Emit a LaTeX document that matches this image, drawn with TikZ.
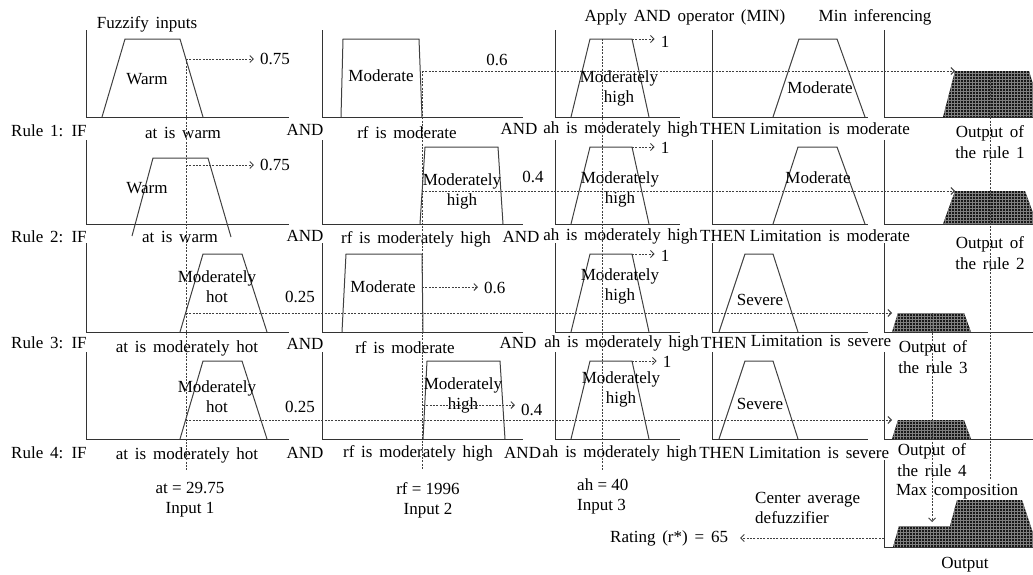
\documentclass[tikz,border=0pt]{standalone}
\usepackage{fontspec}
\setmainfont{Liberation Serif}
\usetikzlibrary{positioning, arrows.meta, patterns}

\tikzset{
  axisline/.style={line width=1pt, black!80},
  mfline/.style={line width=1pt, black!75},
  guide/.style={line width=0.9pt, black!75, dash pattern=on 2pt off 1.3pt},
  guidearrow/.style={guide, -{Straight Barb[length=3.5pt, width=7pt]}},
  outshape/.style={fill=black!90, postaction={pattern=grid, pattern color=black!50}},
  txt/.style={inner sep=0pt, font={\fontsize{17}{19}\selectfont\spaceskip=0.4em\relax}},
  tight/.style={inner sep=0pt, font={\fontsize{17}{19}\selectfont}},
  val/.style={txt, inner xsep=6pt},
}

\begin{document}
\begin{tikzpicture}[x=1pt, y=-1pt]
  \useasboundingbox (0,0) rectangle (1033,574);

  % panels of the four rules
  \foreach \top/\base in {30/117, 140/224, 243/332, 352/439}
    \foreach \xl/\xr in {86/289, 322/523, 555/680, 712/868, 884/1033}
      \draw[axisline] (\xl,\top) -- (\xl,\base) -- (\xr,\base);
  \draw[axisline] (884,460) -- (884,547) -- (1033,547);

  % membership functions, rule 1
  \draw[mfline] (102,117) -- (125,39) -- (180,39) -- (203,117);
  \draw[mfline] (341,117) -- (343,39) -- (419,39) -- (422,117);
  \draw[mfline] (571,117) -- (590,39) -- (632,39) -- (649,117);
  \draw[mfline] (773,117) -- (799,39) -- (837,39) -- (865,117);
  \fill[outshape] (943,117) -- (955,71) -- (1029,71) -- (1033,84) -- (1033,117) -- cycle;
  % rule 2
  \draw[mfline] (132,236) -- (153,158) -- (208,158) -- (231,237);
  \draw[mfline] (420,224) -- (425,147) -- (498,147) -- (503,224);
  \draw[mfline] (571,224) -- (590,147) -- (632,147) -- (649,224);
  \draw[mfline] (773,224) -- (798,147) -- (837,147) -- (865,224);
  \fill[outshape] (943,224) -- (955,191) -- (1025,191) -- (1033,213) -- (1033,224) -- cycle;
  % rule 3
  \draw[mfline] (180,332) -- (203,254) -- (242,254) -- (267,332);
  \draw[mfline] (342,332) -- (346,254) -- (422,254) -- (423,332);
  \draw[mfline] (571,332) -- (590,254) -- (632,254) -- (649,332);
  \draw[mfline] (719,332) -- (745,254) -- (773,254) -- (798,332);
  \fill[outshape] (892,332) -- (898,313) -- (964,313) -- (971,332) -- cycle;
  % rule 4
  \draw[mfline] (180,439) -- (203,361) -- (242,361) -- (267,439);
  \draw[mfline] (423,439) -- (427,361) -- (500,361) -- (505,439);
  \draw[mfline] (571,439) -- (590,361) -- (632,361) -- (649,439);
  \draw[mfline] (719,439) -- (745,361) -- (773,361) -- (798,439);
  \fill[outshape] (892,439) -- (898,420) -- (964,420) -- (971,439) -- cycle;
  % max composition
  \fill[outshape] (893,547) -- (899,526) -- (950,526) -- (957,500) -- (1022,500)
    -- (1033,533) -- (1033,547) -- cycle;

  % headings
  \node[txt] (fuzzify) at (147,24) {Fuzzify inputs};
  \node[txt] (applyand) at (685,17) {Apply AND operator (MIN)};
  \node[txt] (mininf) at (875,17) {Min inferencing};

  % term labels
  \node[txt] (warm1) at (147,79) {Warm};
  \node[txt] (mod1) at (381,76) {Moderate};
  \node[txt, align=center] (mh1) at (619,88) {Moderately\\[1pt]high};
  \node[txt] (lim1) at (820,88) {Moderate};
  \node[txt] (warm2) at (147,188) {Warm};
  \node[txt, align=center] (mh2) at (462,191) {Moderately\\[1pt]high};
  \node[txt, align=center] (ah2) at (620,189) {Moderately\\[1pt]high};
  \node[txt] (lim2) at (818,178) {Moderate};
  \node[txt, align=center] (mhot3) at (217,287) {Moderately\\[1pt]hot};
  \node[txt] (mod3) at (383,287) {Moderate};
  \node[txt, align=center] (ah3) at (620,286) {Moderately\\[1pt]high};
  \node[txt] (lim3) at (760,300) {Severe};
  \node[txt, align=center] (mhot4) at (217,397) {Moderately\\[1pt]hot};
  \node[txt, align=center] (mh4) at (463,395) {Moderately\\[1pt]high};
  \node[txt, align=center] (ah4) at (621,389) {Moderately\\[1pt]high};
  \node[txt] (lim4) at (760,404) {Severe};

  % rule text
  \node[txt, anchor=west] (r1) at (11,131) {Rule 1: IF};
  \node[txt] (r1a) at (183,133) {at is warm};
  \node[txt] (r1b) at (305,130) {AND};
  \node[txt] (r1c) at (407,133) {rf is moderate};
  \node[txt] (r1d) at (519,129) {AND};
  \node[txt, anchor=east] (r1e) at (698,129) {ah is moderately high};
  \node[txt, right=2pt of r1e] (r1f) {THEN};
  \node[txt, right=4pt of r1f] (r1g) {Limitation is moderate};

  \node[txt, anchor=west] (r2) at (11,237) {Rule 2: IF};
  \node[txt] (r2a) at (180,237) {at is warm};
  \node[txt] (r2b) at (305,236) {AND};
  \node[txt] (r2c) at (416,239) {rf is moderately high};
  \node[txt] (r2d) at (521,237) {AND};
  \node[txt, anchor=east] (r2e) at (698,236) {ah is moderately high};
  \node[txt, right=2pt of r2e] (r2f) {THEN};
  \node[txt, right=4pt of r2f] (r2g) {Limitation is moderate};

  \node[txt, anchor=west] (r3) at (11,343) {Rule 3: IF};
  \node[txt] (r3a) at (187,348) {at is moderately hot};
  \node[txt] (r3b) at (305,344) {AND};
  \node[txt] (r3c) at (405,348) {rf is moderate};
  \node[txt] (r3d) at (518,343) {AND};
  \node[txt, anchor=east] (r3e) at (699,343) {ah is moderately high};
  \node[txt, right=2pt of r3e] (r3f) {THEN};
  \node[txt, right=4pt of r3f, yshift=2pt] (r3g) {Limitation is severe};

  \node[txt, anchor=west] (r4) at (11,453) {Rule 4: IF};
  \node[txt] (r4a) at (187,455) {at is moderately hot};
  \node[txt] (r4b) at (305,453) {AND};
  \node[txt] (r4c) at (418,453) {rf is moderately high};
  \node[txt, anchor=west] (r4d) at (504,453) {AND};
  \node[txt, right=1pt of r4d] (r4e) {ah is moderately high};
  \node[txt, right=2pt of r4e] (r4f) {THEN};
  \node[txt, right=4pt of r4f] (r4g) {Limitation is severe};

  % rule outputs
  \node[txt, align=center] (out1) at (990,142) {Output of\\[2pt]the rule 1};
  \node[txt, align=center] (out2) at (990,253) {Output of\\[2pt]the rule 2};
  \node[txt, align=center] (out3) at (933,357) {Output of\\[2pt]the rule 3};
  \node[txt, align=center] (out4) at (932,460) {Output of\\[2pt]the rule 4};

  % inputs and result
  \node[tight, align=center] (in1) at (190,500) {at = 29.75\\[1pt]Input 1};
  \node[tight, align=center] (in2) at (428,500) {rf = 1996\\[1pt]Input 2};
  \node[tight, align=left, anchor=west] (in3) at (577,496) {ah = 40\\[1pt]Input 3};
  \node[txt, align=left, anchor=west] (defuzz) at (755,508) {Center average\\[1pt]defuzzifier};
  \node[txt, anchor=west] (rating) at (610,538) {Rating (r*) = 65};
  \node[txt] (maxcomp) at (957,492) {Max composition};
  \node[txt] (output) at (965,565) {Output};

  % membership values
  \node[val] (v1) at (275,59) {0.75};
  \node[val] (v2) at (275,165) {0.75};
  \node[txt] (v3) at (497,60) {0.6};
  \node[txt] (v4) at (533,177) {0.4};
  \node[txt] (v5) at (300,297) {0.25};
  \node[txt] (v6) at (300,407) {0.25};
  \node[val, anchor=west] (v7) at (478,288) {0.6};
  \node[val, anchor=west] (v8) at (515,410) {0.4};
  \node[val] (one1) at (665,42) {1};
  \node[val] (one2) at (665,148) {1};
  \node[val] (one3) at (665,256) {1};
  \node[val] (one4) at (667,362) {1};

  % cut points
  \coordinate (c1) at (186,59);
  \coordinate (c2) at (422,71);
  \coordinate (c3) at (602,39);
  \coordinate (c4) at (186,165);
  \coordinate (c5) at (422,191);
  \coordinate (c6) at (186,313);
  \coordinate (c7) at (422,287);
  \coordinate (c8) at (186,420);
  \coordinate (c9) at (423,405);
  \coordinate (t1) at (632,39);
  \coordinate (t2) at (632,147);
  \coordinate (t3) at (632,254);
  \coordinate (t4) at (632,361);
  \coordinate (o1) at (955,71);
  \coordinate (o2) at (955,191);
  \coordinate (o3) at (892,313);
  \coordinate (o4) at (892,420);
  \coordinate (o5) at (990,71);
  \coordinate (o6) at (932,313);
  \coordinate (o7) at (884,538);

  % guides
  \draw[guide] (c1) -- (186,470);
  \draw[guide] (c2) -- (422,470);
  \draw[guide] (c3) -- (602,470);
  \draw[guide] (o5) -- (990,480);
  \draw[guidearrow] (o6) -- (932,522);
  \draw[guidearrow] (c1) -- (v1);
  \draw[guidearrow] (c4) -- (v2);
  \draw[guidearrow] (c2) -- (o1);
  \draw[guidearrow] (c5) -- (o2);
  \draw[guidearrow] (c6) -- (o3);
  \draw[guidearrow] (c8) -- (o4);
  \draw[guidearrow] (c7) -- (v7.west |- c7);
  \draw[guidearrow] (c9) -- (v8.west |- c9);
  \draw[guidearrow] (t1) -- (one1.west |- t1);
  \draw[guidearrow] (t2) -- (one2.west |- t2);
  \draw[guidearrow] (t3) -- (one3.west |- t3);
  \draw[guidearrow] (t4) -- (one4.west |- t4);
  \draw[guidearrow] (o7) -- ([xshift=12pt]rating.east);
\end{tikzpicture}
\end{document}
